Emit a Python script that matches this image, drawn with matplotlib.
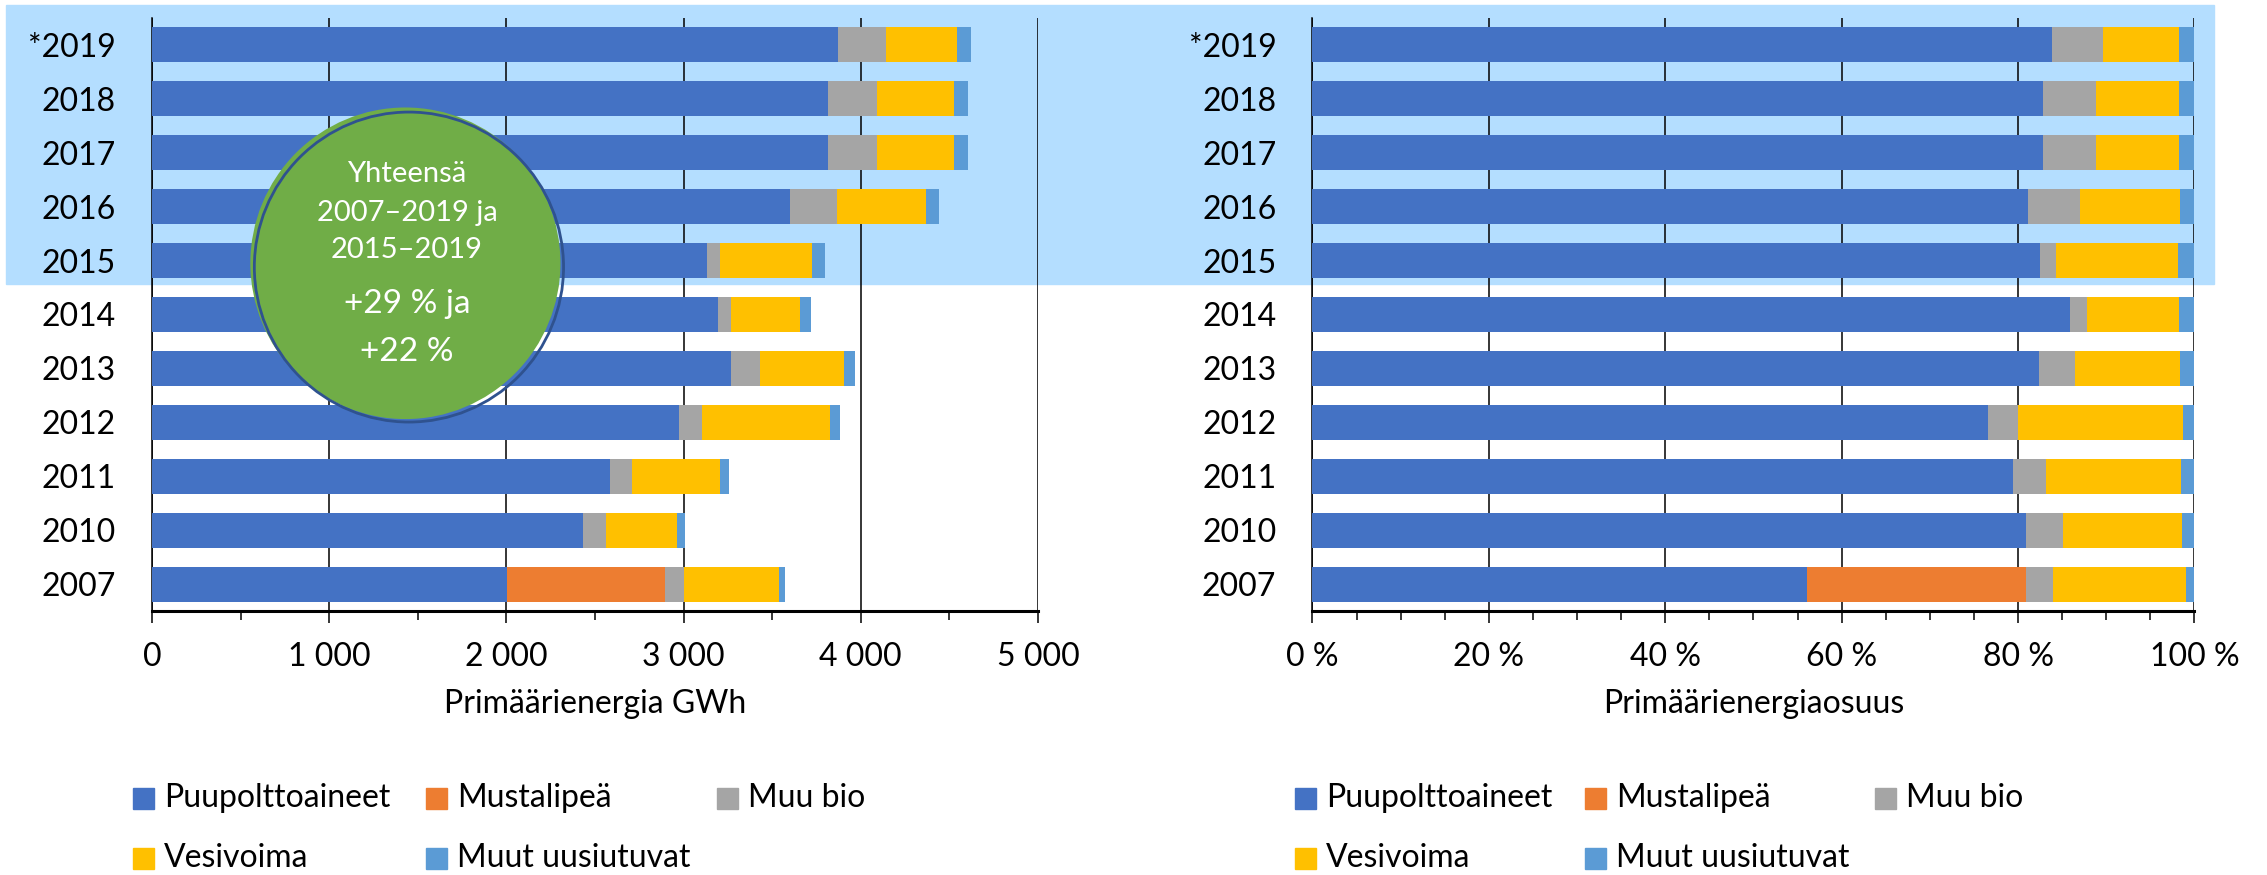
import matplotlib
matplotlib.use("Agg")
import matplotlib.pyplot as plt
import numpy as np
from matplotlib.patches import Rectangle, Ellipse
from matplotlib.ticker import MultipleLocator, FuncFormatter

plt.rcParams["font.family"] = ["Lato", "DejaVu Sans"]

years = ["*2019", "2018", "2017", "2016", "2015", "2014",
         "2013", "2012", "2011", "2010", "2007"]
series = ["Puupolttoaineet", "Mustalipeä", "Muu bio", "Vesivoima",
          "Muut uusiutuvat"]
colors = ["#4472C4", "#ED7D31", "#A5A5A5", "#FFC000", "#5B9BD5"]

# GWh per source
puu = [3872, 3816, 3816, 3603, 3131, 3195, 3266, 2973, 2585, 2435, 2003]
musta = [0, 0, 0, 0, 0, 0, 0, 0, 0, 0, 891]
muubio = [269, 274, 274, 265, 72, 75, 166, 131, 123, 126, 107]
vesi = [400, 435, 435, 499, 522, 388, 472, 724, 495, 404, 538]
muut = [79, 79, 79, 75, 72, 63, 63, 52, 51, 44, 36]

bubble_lines = ["Yhteensä", "2007–2019 ja", "2015–2019", "+29 % ja", "+22 %"]

FS = 23
W, H = 2267, 875

data = np.array([puu, musta, muubio, vesi, muut], dtype=float)
shares = data / data.sum(axis=0) * 100

fig = plt.figure(figsize=(W / 100, H / 100), dpi=100)

# light blue band behind 2015-2019
fig.patches.append(Rectangle((6 / W, 1 - 284 / H), 2208 / W, 279 / H,
                             transform=fig.transFigure, color="#B4DEFF",
                             zorder=-5))

ax1 = fig.add_axes([152 / W, 1 - 611 / H, 886 / W, 593 / H])
ax2 = fig.add_axes([1312.4 / W, 1 - 611 / H, 882 / W, 593 / H])

y = np.arange(len(years))


def draw(ax, vals, xmax, major, minor, fmt, xlabel):
    ax.set_facecolor("none")
    left = np.zeros(len(years))
    for row, col in zip(vals, colors):
        ax.barh(y, row, left=left, height=0.65, color=col, zorder=3)
        left += row
    ax.set_xlim(0, xmax)
    ax.set_ylim(len(years) - 0.5, -0.5)
    ax.set_yticks(y)
    ax.set_yticklabels(years)
    ax.xaxis.set_major_locator(MultipleLocator(major))
    ax.xaxis.set_minor_locator(MultipleLocator(minor))
    ax.xaxis.set_major_formatter(FuncFormatter(fmt))
    ax.grid(axis="x", which="major", color="black", linewidth=1.1, zorder=1)
    ax.set_axisbelow(True)
    for s in ["top", "right"]:
        ax.spines[s].set_visible(False)
    ax.spines["left"].set_linewidth(1.1)
    ax.spines["bottom"].set_linewidth(2.2)
    ax.tick_params(axis="y", length=0, pad=26, labelsize=FS)
    ax.tick_params(axis="x", which="major", length=8.5, width=1.1,
                   pad=14, labelsize=FS)
    ax.tick_params(axis="x", which="minor", length=6.5, width=1.1)
    ax.set_xlabel(xlabel, fontsize=FS, labelpad=12)


draw(ax1, data, 5000, 1000, 500,
     lambda v, p: f"{int(v):,}".replace(",", " "), "Primäärienergia GWh")
draw(ax2, shares, 100, 20, 5,
     lambda v, p: f"{int(v)} %", "Primäärienergiaosuus")

# green bubble
ax1.add_patch(Ellipse((1430, 4.05), 1750, 5.78, facecolor="#70AD47",
                      edgecolor="none", zorder=5))
ax1.add_patch(Ellipse((1450, 4.12), 1745, 5.75, facecolor="none",
                      edgecolor="#2F528F", linewidth=2.0, zorder=6))
for txt, yy, fs in zip(bubble_lines, [2.39, 3.11, 3.80, 4.81, 5.69],
                       [21, 21, 21, 24, 24]):
    ax1.text(1439, yy, txt, color="white", fontsize=fs, ha="center",
             va="center", zorder=7)

# legends
for xs in ([133, 426, 717], [1295, 1585, 1875]):
    pos = [(xs[0], 798), (xs[1], 798), (xs[2], 798), (xs[0], 858),
           (xs[1], 858)]
    for (px, py), name, col in zip(pos, series, colors):
        fig.patches.append(Rectangle((px / W, 1 - (py + 10.5) / H),
                                     21 / W, 21 / H,
                                     transform=fig.transFigure, color=col))
        fig.text((px + 31) / W, 1 - py / H, name, fontsize=FS,
                 va="center", ha="left")

fig.savefig("out.png", dpi=100)
